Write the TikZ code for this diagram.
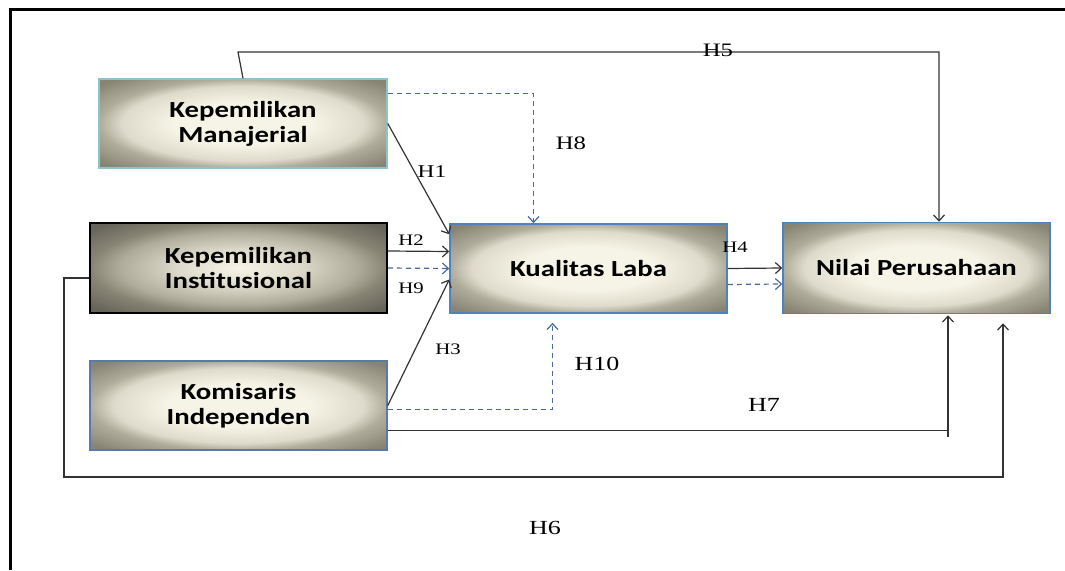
\documentclass[tikz,border=0pt]{standalone}
\usepackage{fontspec}
\usetikzlibrary{arrows.meta}

\newfontfamily\boxfont{Carlito}[FakeStretch=1.25]
\newfontfamily\hypfont{Liberation Serif}[FakeStretch=1.3]

\definecolor{blueedge}{HTML}{4F81BD}
\definecolor{tealedge}{HTML}{8CC4CC}
\definecolor{slateedge}{HTML}{5A78A8}
\definecolor{dashblue}{HTML}{4A6A9A}
\definecolor{linegray}{HTML}{333333}
\definecolor{creamin}{HTML}{F6F4E6}
\definecolor{creammid}{HTML}{DEDBCC}
\definecolor{edgemid}{HTML}{AFAC9C}
\definecolor{oliveout}{HTML}{878474}
\definecolor{darkout}{HTML}{66635A}

% glow inside the boxes
\pgfdeclareradialshading{boxglow}{\pgfpoint{0bp}{0bp}}{color(0bp)=(creamin); color(12bp)=(creamin); color(21bp)=(creammid); color(25bp)=(edgemid); color(33bp)=(oliveout); color(50bp)=(oliveout)}
\pgfdeclareradialshading{darkglow}{\pgfpoint{0bp}{0bp}}{color(0bp)=(creamin); color(10bp)=(creammid); color(20bp)=(edgemid); color(25bp)=(oliveout); color(33bp)=(darkout); color(50bp)=(darkout)}

\tikzset{
  varbox/.style={draw, line width=1.5pt, shading=boxglow,
    font=\boxfont\bfseries\fontsize{23}{25}\selectfont, align=center, inner sep=0pt},
  hyp/.style={->, draw=linegray, line width=1.2pt},
  modhyp/.style={->, draw=dashblue, line width=1.2pt, dash pattern=on 5pt off 4pt},
  hlab/.style={font=\hypfont\fontsize{20}{22}\selectfont, inner sep=0pt},
  hlabsm/.style={font=\hypfont\fontsize{16}{18}\selectfont, inner sep=0pt},
  >={Straight Barb[length=6pt,width=11pt]}
}

\begin{document}
\begin{tikzpicture}[x=1pt,y=-1pt]
  \useasboundingbox (0,0) rectangle (1065,570);

  % outer frame, cut off at right and bottom
  \draw[line width=3pt] (10,570) -- (10,9) -- (1065,9);

  % variables
  \node[varbox, draw=tealedge, minimum width=288pt, minimum height=89pt] (km) at (243,123.5) {Kepemilikan\\Manajerial};
  \node[varbox, draw=black, line width=2pt, shading=darkglow, minimum width=297pt, minimum height=90pt] (ki) at (238.5,268) {Kepemilikan\\Institusional};
  \node[varbox, draw=slateedge, minimum width=297pt, minimum height=89pt] (ka) at (238.5,405.5) {Komisaris\\Independen};
  \node[varbox, draw=blueedge, minimum width=277pt, minimum height=89pt] (kl) at (588.5,268.5) {Kualitas Laba};
  \node[varbox, draw=blueedge, minimum width=267pt, minimum height=91pt] (np) at (916.5,268) {Nilai Perusahaan};

  % bend points
  \coordinate (h5a) at (238,52);
  \coordinate (h6a) at (64,477);
  \coordinate (h7b) at (948,437);

  % direct paths to Kualitas Laba
  \draw[hyp] (km.east) -- ([yshift=-11pt]kl.north west);
  \draw[hyp] ([yshift=17pt]ki.east) -- ([yshift=17pt]kl.west);
  \draw[hyp] (ka.east) -- ([yshift=-11pt]kl.west);
  \draw[hyp] (kl.east) -- (np.west);

  % moderated paths
  \draw[modhyp] ([yshift=30pt]km.east) -| ([xshift=-55pt]kl.north);
  \draw[modhyp] (ki.east) -- (kl.west);
  \draw[modhyp] ([yshift=-4pt]ka.east) -| ([xshift=-36pt,yshift=-9pt]kl.south);
  \draw[modhyp] ([yshift=-16pt]kl.east) -- ([yshift=-16pt]np.west);

  % paths to Nilai Perusahaan
  \draw[hyp] (km.north) -- (h5a) -| ([xshift=22.5pt]np.north);
  \draw[hyp] ([yshift=-25pt]ka.east) -| ([xshift=31.5pt,yshift=-1pt]np.south);
  \draw[linegray, line width=1.2pt] (h7b) -- ++(0,-7);
  \draw[hyp] ([yshift=-10pt]ki.west) -| (h6a) -| ([xshift=86.5pt,yshift=-9pt]np.south);

  % labels
  \node[hlab, font=\hypfont\fontsize{18}{20}\selectfont] (l1) at (432,172) {H1};
  \node[hlabsm] (l2) at (411,240) {H2};
  \node[hlabsm] (l3) at (448,349) {H3};
  \node[hlabsm] (l4) at (735,247) {H4};
  \node[hlab, font=\hypfont\fontsize{19}{21}\selectfont] (l5) at (718,50) {H5};
  \node[hlab] (l6) at (545,528) {H6};
  \node[hlab] (l7) at (764,405) {H7};
  \node[hlab, font=\hypfont\fontsize{19}{21}\selectfont] (l8) at (571,143) {H8};
  \node[hlabsm] (l9) at (411,288) {H9};
  \node[hlab] (l10) at (597,364) {H10};
\end{tikzpicture}
\end{document}
